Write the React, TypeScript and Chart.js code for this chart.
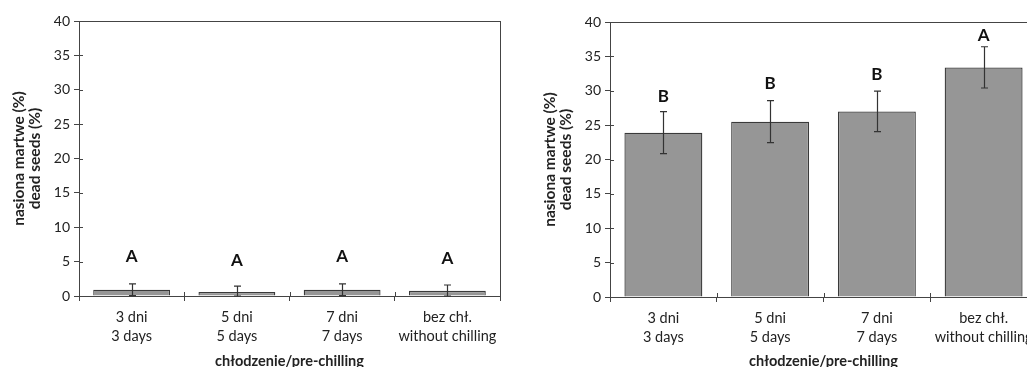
import React, { useEffect, useRef } from "react";
import { Chart, registerables } from "chart.js";

Chart.register(...registerables);

const categories: string[][] = [
  ["3 dni", "3 days"],
  ["5 dni", "5 days"],
  ["7 dni", "7 days"],
  ["bez chł.", "without chilling"],
];

const leftValues = [0.9, 0.6, 0.9, 0.75];
const leftErrors = [0.85, 0.85, 0.85, 0.85];
const leftLetters = ["A", "A", "A", "A"];
const leftLetterY = [5.7, 5.2, 5.7, 5.5];

const rightValues = [23.9, 25.5, 27.0, 33.4];
const rightErrors = [3.05, 3.05, 2.95, 3.0];
const rightLetters = ["B", "B", "B", "A"];
const rightLetterY = [29.2, 31.0, 32.3, 38.1];

const yMin = 0;
const yMax = 40;
const yStep = 5;

const yTitle = ["nasiona martwe (%)", "dead seeds (%)"];
const xTitle = "chłodzenie/pre-chilling";

const FONT = "Lato, 'Open Sans', sans-serif";
const AXIS = "#444444";
const TEXT = "#222222";

type PanelProps = {
  values: number[];
  errors: number[];
  letters: string[];
  letterY: number[];
  left: number;
  top: number;
  padRight: number;
  xHeight: number;
};

const CW = 520;
const CH = 367;

function Panel(props: PanelProps) {
  const ref = useRef<HTMLCanvasElement | null>(null);
  useEffect(() => {
    if (!ref.current) return;
    const { values, errors, letters, letterY } = props;
    const extras = {
      id: "extras",
      afterDatasetsDraw(chart: any) {
        const ctx = chart.ctx;
        const y = chart.scales.y;
        const meta = chart.getDatasetMeta(0);
        ctx.save();
        ctx.strokeStyle = "#333333";
        ctx.lineWidth = 1.2;
        meta.data.forEach((bar: any, i: number) => {
          const px = Math.round(bar.x) + 0.5;
          const t = y.getPixelForValue(values[i] + errors[i]);
          const b = y.getPixelForValue(Math.max(0, values[i] - errors[i]));
          ctx.beginPath();
          ctx.moveTo(px, t);
          ctx.lineTo(px, b);
          ctx.moveTo(px - 3.5, t);
          ctx.lineTo(px + 3.5, t);
          ctx.moveTo(px - 3.5, b);
          ctx.lineTo(px + 3.5, b);
          ctx.stroke();
        });
        ctx.fillStyle = "#111111";
        ctx.font = `bold 17px ${FONT}`;
        ctx.textAlign = "center";
        ctx.textBaseline = "middle";
        meta.data.forEach((bar: any, i: number) => {
          ctx.fillText(letters[i], bar.x, y.getPixelForValue(letterY[i]));
        });
        ctx.restore();
      },
      afterDraw(chart: any) {
        const ctx = chart.ctx;
        const a = chart.chartArea;
        const y = chart.scales.y;
        ctx.save();
        ctx.strokeStyle = AXIS;
        ctx.lineWidth = 1;
        ctx.beginPath();
        ctx.moveTo(a.left, Math.round(a.top) + 0.5);
        ctx.lineTo(a.right, Math.round(a.top) + 0.5);
        ctx.moveTo(Math.round(a.right) + 0.5, a.top);
        ctx.lineTo(Math.round(a.right) + 0.5, a.bottom);
        y.ticks.forEach((t: any) => {
          const py = Math.round(y.getPixelForValue(t.value)) + 0.5;
          ctx.moveTo(a.left, py);
          ctx.lineTo(a.left + 4, py);
        });
        const n = categories.length;
        for (let k = 0; k <= n; k++) {
          const px = Math.round(a.left + (k * (a.right - a.left)) / n) + 0.5;
          ctx.moveTo(px, a.bottom - 4);
          ctx.lineTo(px, a.bottom);
        }
        ctx.stroke();
        ctx.restore();
      },
    };

    const chart = new Chart(ref.current, {
      type: "bar",
      data: {
        labels: categories,
        datasets: [
          {
            data: values,
            backgroundColor: "#969696",
            borderColor: "#3a3a3a",
            borderWidth: 1.3,
            categoryPercentage: 1,
            barPercentage: 0.73,
          },
        ],
      },
      options: {
        animation: false,
        responsive: false,
        layout: { padding: { left: 0, top: props.top, right: props.padRight, bottom: 0 } },
        plugins: { legend: { display: false }, tooltip: { enabled: false } },
        scales: {
          x: {
            afterFit(scale: any) {
              scale.height = props.xHeight;
            },
            grid: {
              offset: true,
              drawOnChartArea: false,
              drawTicks: true,
              tickLength: 5,
              color: AXIS,
            },
            border: { color: AXIS, width: 1 },
            ticks: {
              color: TEXT,
              padding: 7,
              font: { family: FONT, size: 14.5, lineHeight: 1.32 },
              maxRotation: 0,
            },
            title: {
              display: true,
              text: xTitle,
              color: TEXT,
              font: { family: FONT, size: 14.5, weight: "bold", lineHeight: 1.2 },
              padding: { top: 0, bottom: -3 },
            },
          },
          y: {
            min: yMin,
            max: yMax,
            afterFit(scale: any) {
              scale.width = 79;
            },
            grid: {
              drawOnChartArea: false,
              drawTicks: true,
              tickLength: 5,
              color: AXIS,
            },
            border: { color: AXIS, width: 1 },
            ticks: {
              stepSize: yStep,
              color: TEXT,
              padding: 4,
              font: { family: FONT, size: 14 },
            },
            title: {
              display: true,
              text: yTitle,
              color: TEXT,
              font: { family: FONT, size: 15.5, weight: "bold", lineHeight: 1.06 },
              padding: { top: 10.5, bottom: 0 },
            },
          },
        },
      },
      plugins: [extras],
    } as any);
    return () => chart.destroy();
  }, []);
  return (
    <canvas
      ref={ref}
      width={CW}
      height={CH}
      style={{ position: "absolute", left: props.left, top: 0, width: CW, height: CH, display: "block" }}
    />
  );
}

export default function App() {
  return (
    <div
      style={{
        position: "fixed",
        left: 0,
        top: 0,
        width: 1027,
        height: 367,
        overflow: "hidden",
        background: "#ffffff",
      }}
    >
      <Panel
        values={leftValues}
        errors={leftErrors}
        letters={leftLetters}
        letterY={leftLetterY}
        left={0}
        top={21}
        padRight={20}
        xHeight={71}
      />
      <Panel
        values={rightValues}
        errors={rightErrors}
        letters={rightLetters}
        letterY={rightLetterY}
        left={531}
        top={22}
        padRight={14}
        xHeight={70}
      />
    </div>
  );
}
